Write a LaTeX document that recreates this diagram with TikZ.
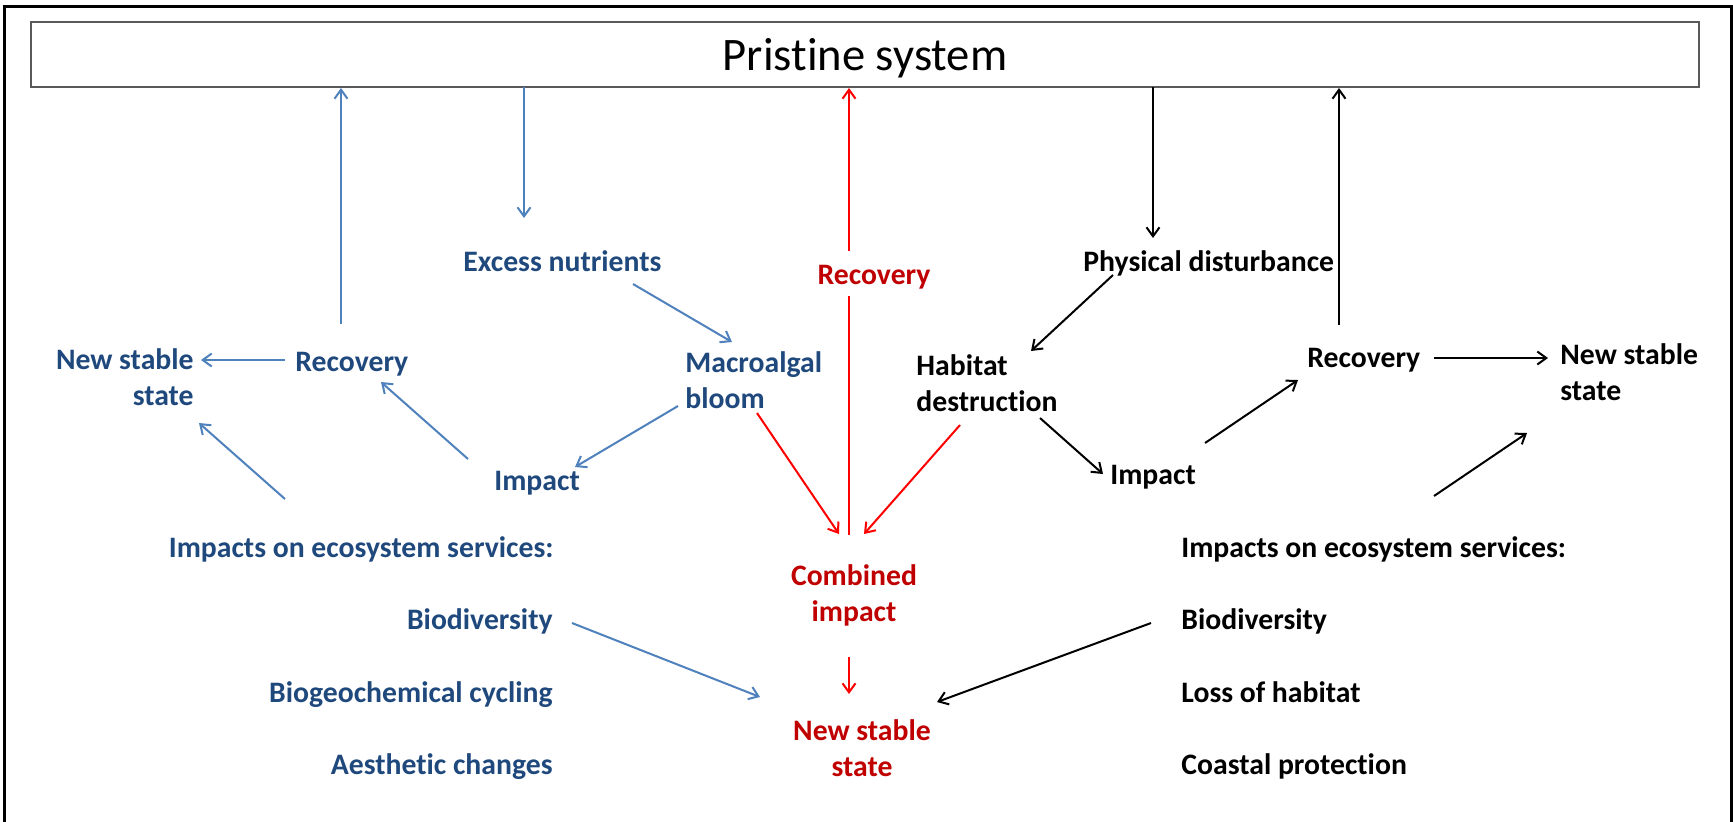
\documentclass[tikz,border=0pt]{standalone}
\usepackage{fontspec}
\setmainfont{Carlito}[Ligatures=NoCommon]
\usetikzlibrary{arrows.meta,calc}
\definecolor{tblue}{HTML}{1F497D}
\definecolor{ablue}{HTML}{4F81BD}
\definecolor{tred}{HTML}{C00000}
\definecolor{ared}{HTML}{FF0000}
\begin{document}
\begin{tikzpicture}[x=0.5pt,y=-0.5pt,
  lbl/.style={inner sep=0pt, font=\bfseries\fontsize{14.85}{18}\selectfont},
  bl/.style={lbl, text=tblue},
  rd/.style={lbl, text=tred},
  bk/.style={lbl, text=black},
  conn/.style={line width=1pt, -{Straight Barb[length=4.5pt,width=6.5pt,line width=1pt]}},
  barrow/.style={conn, draw=ablue},
  rarrow/.style={conn, draw=ared},
  rline/.style={line width=1pt, draw=ared},
  karrow/.style={conn, draw=black},
  frame/.style={line width=1.5pt, draw=black},
]
\useasboundingbox (0,0) rectangle (1733,821);
\fill[white] (0,0) rectangle (1733,821);
\draw[frame] (4.6,830) -- (4.6,6) -- (1731,6) -- (1731,830);

\node[draw=black!65, line width=0.8pt, minimum width=834pt, minimum height=32.5pt,
      inner sep=0pt, text height=20pt, text depth=4.5pt,
      font=\fontsize{23.3}{27}\selectfont] (box) at (865,54.5) {Pristine system};

% blue side (multi-line nodes: base = last line)
\node[bl, anchor=base west] (exN) at (463,271) {Excess nutrients};
\node[bl, anchor=base west, align=left] (mac) at (685,408) {Macroalgal\\bloom};
\node[bl, anchor=base west] (recB) at (295,371) {Recovery};
\node[bl, anchor=base east, align=right] (nssB) at (194,405) {New stable\\state};
\node[bl, anchor=base west] (impB) at (494,490) {Impact};
\node[bl, anchor=base east] (esB) at (554,557) {Impacts on ecosystem services:};
\node[bl, anchor=base east] (bioB) at (553,629) {Biodiversity};
\node[bl, anchor=base east] (bgcB) at (553,702) {Biogeochemical cycling};
\node[bl, anchor=base east] (aesB) at (553,774) {Aesthetic changes};

% red centre
\node[rd, anchor=base] (recR) at (874,284) {Recovery};
\node[rd, anchor=base, align=center] (comR) at (854,621) {Combined\\impact};
\node[rd, anchor=base, align=center] (nssR) at (862,776) {New stable\\state};

% black side
\node[bk, anchor=base west] (phy) at (1083,271) {Physical disturbance};
\node[bk, anchor=base west, align=left] (hab) at (916,411) {Habitat\\destruction};
\node[bk, anchor=base west] (impK) at (1110,484) {Impact};
\node[bk, anchor=base west] (recK) at (1307,367) {Recovery};
\node[bk, anchor=base west, align=left] (nssK) at (1560,400) {New stable\\state};
\node[bk, anchor=base west] (esK) at (1181,557) {Impacts on ecosystem services:};
\node[bk, anchor=base west] (bioK) at (1181,629) {Biodiversity};
\node[bk, anchor=base west] (losK) at (1181,702) {Loss of habitat};
\node[bk, anchor=base west] (coaK) at (1181,774) {Coastal protection};

% blue connectors
\draw[barrow] ($(recB.base west)+(46,-47)$) -- ($(recB.base west)+(46,-283)$);
\draw[barrow] ($(exN.base west)+(61,-184)$) -- ($(exN.base west)+(61,-53)$);
\draw[barrow] ($(exN.base west)+(170,13)$) -- ($(mac.base west)+(47,-66)$);
\draw[barrow] ($(recB.base west)+(-10,-11)$) -- ($(nssB.base east)+(7,-45)$);
\draw[barrow] ($(impB.base west)+(-26,-31)$) -- ($(recB.base west)+(86,11)$);
\draw[barrow] ($(mac.base west)+(-7,-2)$) -- ($(impB.base west)+(81,-23)$);
\draw[barrow] ($(esB.base east)+(-269,-58)$) -- ($(nssB.base east)+(5,18)$);
\draw[barrow] ($(bioB.base east)+(19,-6)$) -- ($(nssR.base)+(-102,-79)$);

% red connectors
\draw[rarrow] ($(recR.base)+(-25,-33)$) -- ($(recR.base)+(-25,-196)$);
\draw[rline] ($(comR.base)+(-5,-86)$) -- ($(recR.base)+(-25,12)$);
\draw[rarrow] ($(mac.base west)+(72,5)$) -- ($(comR.base)+(-15,-87)$);
\draw[rarrow] ($(hab.base west)+(44,14)$) -- ($(comR.base)+(10,-87)$);
\draw[rarrow] ($(comR.base)+(-5,36)$) -- ($(nssR.base)+(-13,-82)$);

% black connectors
\draw[karrow] ($(phy.base west)+(70,-184)$) -- ($(phy.base west)+(70,-33)$);
\draw[karrow] ($(phy.base west)+(30,4)$) -- ($(hab.base west)+(115,-60)$);
\draw[karrow] ($(hab.base west)+(124,7)$) -- ($(impK.base west)+(-7,-10)$);
\draw[karrow] ($(impK.base west)+(95,-41)$) -- ($(recK.base west)+(-9,13)$);
\draw[karrow] ($(recK.base west)+(32,-42)$) -- ($(recK.base west)+(32,-279)$);
\draw[karrow] ($(recK.base west)+(127,-9)$) -- ($(nssK.base west)+(-12,-42)$);
\draw[karrow] ($(esK.base west)+(253,-61)$) -- ($(nssK.base west)+(-33,33)$);
\draw[karrow] ($(bioK.base west)+(-30,-6)$) -- ($(nssR.base)+(75,-74)$);
\end{tikzpicture}
\end{document}
